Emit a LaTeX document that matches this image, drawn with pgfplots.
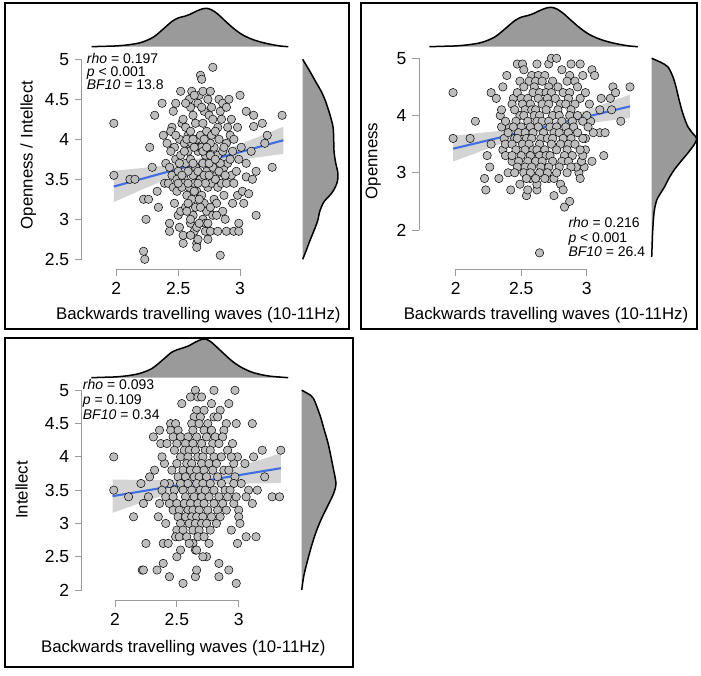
\documentclass[border=0pt]{standalone}
\usepackage{fontspec}
\setmainfont{Liberation Sans}
\usepackage{pgfplots}
\pgfplotsset{compat=1.18}
\definecolor{ptfill}{HTML}{BDBDBD}
\definecolor{densfill}{HTML}{9A9A9A}
\definecolor{bandgray}{HTML}{D4D4D4}
\definecolor{regblue}{RGB}{65,110,225}
\definecolor{axgray}{HTML}{9A9A9A}
\newcommand{\lab}{\fontsize{16.8}{19}\selectfont}
\newcommand{\tlab}{\fontsize{17.5}{20}\selectfont}
\newcommand{\ann}{\fontsize{14}{16}\selectfont}
\pgfplotsset{
  mainax/.style={scale only axis, clip=false,
    axis line style={draw=none},
    tick pos=left, tick align=outside, major tick length=7pt,
    tick style={draw=axgray, line width=0.9pt},
    xtick={2,2.5,3},
    /pgf/number format/assume math mode=true,
    ticklabel style={font=\tlab},
    xticklabel style={yshift=-2.5pt},
    yticklabel style={xshift=-2pt},
  },
  densax/.style={scale only axis, hide axis, clip=false},
  pts/.style={only marks, mark=*, mark size=4.2pt, mark options={fill=ptfill, draw=black, line width=0.5pt}},
  dens/.style={fill=densfill, draw=black, line width=1.5pt, smooth, tension=0.5},
  band/.style={fill=bandgray, draw=none},
  regl/.style={regblue, line width=2.1pt},
}
\begin{document}
\begin{tikzpicture}[x=1pt,y=1pt]
\path[use as bounding box] (0,0) rectangle (701pt,675pt);
% frames
\draw[line width=1.8pt] (5pt,672pt) rectangle (349pt,346pt);
\draw[line width=1.8pt] (361pt,672pt) rectangle (697pt,346pt);
\draw[line width=1.8pt] (5pt,337pt) rectangle (353pt,8pt);

%% ================= Panel 1 =================
\begin{axis}[mainax, at={(81.7pt,405.7pt)}, anchor=south west, width=214pt, height=210pt,
  xmin=1.72, xmax=3.45, ymin=2.375, ymax=5, ytick={2.5,3,3.5,4,4.5,5}]
\addplot[band] coordinates {(1.98,3.605)(2.2,3.640)(2.4,3.676)(2.6,3.728)(2.8,3.821)(3.0,3.938)(3.2,4.063)(3.35,4.158)(3.35,3.818)(3.2,3.787)(3.0,3.743)(2.8,3.691)(2.6,3.615)(2.4,3.498)(2.2,3.366)(1.98,3.215)};
\addplot[pts] coordinates {
(1.98,4.20)(1.98,3.55)(2.11,3.50)(2.15,3.50)(2.22,2.60)(2.23,2.50)(2.24,3.00)(2.22,3.25)(2.26,3.25)(2.27,3.90)(2.29,3.65)(2.31,4.30)(2.33,3.35)(2.34,3.15)(2.37,4.45)(2.38,4.05)(2.40,3.70)(2.39,3.45)(2.42,3.45)(2.43,2.95)(2.43,2.85)(2.45,4.15)(2.46,4.35)(2.48,4.45)(2.52,4.60)(2.54,2.70)(2.54,2.80)(2.47,3.20)(2.45,3.55)(2.43,3.65)(2.41,3.95)(2.44,4.10)(2.47,3.90)(2.48,3.75)(2.46,3.40)(2.50,3.05)(2.51,2.90)(2.52,3.10)(2.49,3.35)(2.50,3.60)(2.52,3.80)(2.51,4.00)(2.53,4.20)(2.54,4.25)(2.56,4.15)(2.55,3.95)(2.56,3.70)(2.55,3.50)(2.57,3.30)(2.56,3.15)(2.54,3.45)(2.58,3.85)(2.58,4.05)(2.59,4.50)(2.60,4.40)(2.61,4.60)(2.62,4.30)(2.60,4.10)(2.61,3.95)(2.60,3.75)(2.62,3.55)(2.59,3.40)(2.61,3.25)(2.62,3.05)(2.60,2.95)(2.63,2.85)(2.65,2.70)(2.65,2.65)(2.66,2.75)(2.65,2.90)(2.64,3.15)(2.65,3.35)(2.63,3.45)(2.64,3.65)(2.66,3.85)(2.65,4.00)(2.64,4.20)(2.66,4.45)(2.67,4.55)(2.68,4.80)(2.69,4.75)(2.70,4.60)(2.71,4.35)(2.70,4.20)(2.68,4.05)(2.67,3.90)(2.69,3.90)(2.70,3.70)(2.68,3.50)(2.69,3.30)(2.71,3.20)(2.70,3.00)(2.72,2.85)(2.74,2.75)(2.72,2.95)(2.73,3.10)(2.74,3.40)(2.73,3.60)(2.72,3.80)(2.74,3.90)(2.73,4.10)(2.75,4.30)(2.74,4.50)(2.76,4.60)(2.78,4.90)(2.77,4.40)(2.78,4.25)(2.77,4.05)(2.79,3.90)(2.78,3.65)(2.77,3.45)(2.79,3.25)(2.78,3.05)(2.76,2.85)(2.84,2.55)(2.81,3.20)(2.82,3.40)(2.81,3.55)(2.82,3.80)(2.83,4.00)(2.82,4.15)(2.84,4.35)(2.83,4.50)(2.86,4.45)(2.85,4.25)(2.86,3.85)(2.87,3.65)(2.85,3.45)(2.87,3.30)(2.86,3.10)(2.82,2.85)(2.89,2.85)(2.88,3.00)(2.89,3.45)(2.90,3.70)(2.89,3.95)(2.90,4.15)(2.89,4.40)(2.91,4.50)(2.93,4.25)(2.92,4.05)(2.94,3.85)(2.93,3.55)(2.95,3.45)(2.94,3.20)(2.99,2.95)(2.95,2.85)(2.99,2.85)(2.98,3.30)(2.97,3.60)(2.99,3.75)(2.98,4.15)(3.00,4.55)(3.01,3.90)(3.02,3.35)(3.03,3.20)(3.05,3.70)(3.05,3.53)(3.07,3.32)(3.05,4.35)(3.09,3.85)(3.11,4.30)(3.11,4.16)(3.10,3.50)(3.13,3.05)(3.13,3.60)(3.18,4.20)(3.22,4.05)(3.20,3.95)(3.26,3.65)(3.34,4.30)
(2.57,4.00)(2.63,3.90)(2.66,3.60)(2.71,3.55)(2.75,3.70)(2.76,3.15)(2.80,3.50)(2.84,3.70)(2.62,3.70)(2.58,3.60)(2.53,3.40)(2.51,3.70)(2.48,4.05)(2.44,3.85)(2.57,3.10)(2.60,3.00)(2.67,3.25)(2.72,3.45)(2.76,3.95)(2.80,4.10)(2.69,4.40)(2.63,4.55)(2.56,4.45)(2.60,2.80)(2.67,2.95)(2.74,2.95)(2.81,3.05)(2.87,3.90)(2.92,3.75)(2.95,4.00)
(2.49,3.50)(2.53,3.55)(2.58,3.20)(2.63,3.35)(2.66,3.45)(2.70,3.85)(2.73,3.90)(2.76,3.80)(2.71,4.00)(2.62,4.00)(2.55,3.85)(2.50,3.45)(2.58,3.45)(2.68,3.15)(2.75,3.55)(2.83,3.60)(2.88,3.55)(2.80,3.75)
};
\addplot[regl] coordinates {(1.98,3.41)(3.35,3.988)};
\draw[axgray, line width=0.9pt] (axis cs:2,2.375) -- (axis cs:3,2.375);
\draw[axgray, line width=0.9pt] (axis cs:1.72,2.5) -- (axis cs:1.72,5);
\end{axis}
\begin{axis}[densax, at={(81.7pt,628.3pt)}, anchor=south west, width=214pt, height=38.4pt,
  xmin=1.72, xmax=3.45, ymin=0, ymax=1]
\addplot[dens] coordinates {(1.80,0.0)(1.90,0.01)(2.00,0.02)(2.10,0.05)(2.20,0.11)(2.30,0.25)(2.40,0.52)(2.45,0.66)(2.50,0.75)(2.55,0.79)(2.60,0.85)(2.65,0.93)(2.70,0.99)(2.73,1.0)(2.77,0.96)(2.82,0.85)(2.88,0.67)(2.95,0.47)(3.02,0.31)(3.10,0.19)(3.18,0.11)(3.25,0.06)(3.32,0.02)(3.39,0.0)};
\end{axis}
\begin{axis}[densax, at={(302.7pt,405.7pt)}, anchor=south west, width=35.6pt, height=210pt,
  xmin=0, xmax=1, ymin=2.375, ymax=5]
\addplot[dens] coordinates {(0,5.0)(0.2,4.85)(0.39,4.70)(0.52,4.60)(0.63,4.49)(0.75,4.33)(0.85,4.16)(0.87,4.0)(0.88,3.85)(0.92,3.72)(0.99,3.57)(0.96,3.45)(0.82,3.33)(0.6,3.22)(0.48,3.10)(0.42,2.98)(0.31,2.85)(0.19,2.72)(0.09,2.6)(0,2.5)};
\end{axis}
\node[rotate=90, font=\lab] at (28.3pt,520pt) {Openness / Intellect};
\node[font=\lab] at (198.3pt,360pt) {Backwards travelling waves (10-11Hz)};
\node[anchor=base west, font=\ann, inner sep=0pt] at (86.7pt,611.7pt) {\textit{rho} = 0.197};
\node[anchor=base west, font=\ann, inner sep=0pt] at (86.7pt,598.3pt) {\textit{p} < 0.001};
\node[anchor=base west, font=\ann, inner sep=0pt] at (86.7pt,585pt) {\textit{BF10} = 13.8};

%% ================= Panel 2 =================
\begin{axis}[mainax, at={(419pt,405.7pt)}, anchor=south west, width=226.7pt, height=211pt,
  xmin=1.72, xmax=3.45, ymin=1.313, ymax=5, ytick={2,3,4,5}]
\addplot[band] coordinates {(1.98,3.645)(2.2,3.699)(2.4,3.746)(2.6,3.822)(2.8,3.943)(3.0,4.096)(3.2,4.258)(3.33,4.365)(3.33,3.955)(3.2,3.920)(3.0,3.862)(2.8,3.795)(2.6,3.698)(2.4,3.554)(2.2,3.383)(1.98,3.195)};
\addplot[pts] coordinates {
(1.98,4.40)(1.98,3.60)(2.11,3.60)(2.15,3.90)(2.22,2.90)(2.23,2.70)(2.24,3.30)(2.26,3.10)(2.27,3.50)(2.27,4.40)(2.31,4.30)(2.33,2.90)(2.34,4.00)(2.35,3.80)(2.36,3.40)(2.36,4.50)(2.39,4.70)(2.41,3.80)(2.42,2.70)(2.43,3.20)(2.44,4.30)(2.45,3.60)(2.47,4.90)(2.49,2.80)(2.49,4.00)(2.51,4.90)(2.52,4.80)(2.54,2.60)(2.55,2.70)(2.57,2.90)(2.62,4.90)(2.62,2.70)(2.62,2.80)(2.64,1.60)(2.71,4.90)(2.73,5.00)(2.77,5.00)(2.71,2.90)(2.75,2.90)(2.75,2.60)(2.80,2.80)(2.82,2.70)(2.83,2.40)(2.87,2.50)(2.81,4.80)(2.87,4.70)(2.88,4.90)(2.95,4.90)(2.97,4.70)(3.04,4.80)(3.06,4.70)(3.11,4.30)(3.18,4.30)(3.20,4.50)(3.22,4.40)(3.19,4.10)(3.26,3.90)(3.33,4.50)(3.10,4.10)(3.10,3.70)(3.14,3.70)(3.05,3.70)(3.03,3.90)(3.04,3.20)(3.13,3.30)(2.99,3.40)(2.98,3.10)(2.94,3.00)(2.92,3.10)(2.96,3.20)
(2.35,4.10)(2.38,3.30)(2.37,3.60)(2.99,3.60)(3.00,4.00)(2.97,3.30)(2.40,3.00)(3.02,4.20)(2.95,2.90)
(2.58,4.70)(2.63,4.70)(2.68,4.70)
(2.49,4.60)(2.56,4.60)(2.61,4.60)(2.66,4.60)(2.74,4.60)(2.85,4.60)(2.91,4.60)
(2.52,4.50)(2.60,4.50)(2.71,4.50)(2.78,4.50)(2.93,4.50)
(2.47,4.40)(2.59,4.40)(2.64,4.40)(2.69,4.40)(2.73,4.40)(2.82,4.40)(2.87,4.40)(2.99,4.40)
(2.50,4.30)(2.55,4.30)(2.63,4.30)(2.70,4.30)(2.76,4.30)(2.86,4.30)(2.95,4.30)
(2.43,4.20)(2.51,4.20)(2.57,4.20)(2.66,4.20)(2.71,4.20)(2.80,4.20)(2.84,4.20)(2.91,4.20)
(2.45,4.10)(2.53,4.10)(2.58,4.10)(2.61,4.10)(2.69,4.10)(2.78,4.10)(2.88,4.10)
(2.52,4.00)(2.60,4.00)(2.64,4.00)(2.74,4.00)(2.79,4.00)(2.87,4.00)(2.93,4.00)
(2.38,3.90)(2.46,3.90)(2.55,3.90)(2.62,3.90)(2.66,3.90)(2.71,3.90)(2.81,3.90)(2.89,3.90)(2.97,3.90)
(2.44,3.80)(2.50,3.80)(2.57,3.80)(2.63,3.80)(2.72,3.80)(2.77,3.80)(2.84,3.80)(2.90,3.80)(3.01,3.80)
(2.40,3.70)(2.48,3.70)(2.53,3.70)(2.59,3.70)(2.67,3.70)(2.75,3.70)(2.79,3.70)(2.86,3.70)(2.93,3.70)
(2.47,3.60)(2.54,3.60)(2.58,3.60)(2.65,3.60)(2.70,3.60)(2.74,3.60)(2.82,3.60)(2.88,3.60)(2.97,3.60)
(2.38,3.50)(2.43,3.50)(2.51,3.50)(2.56,3.50)(2.64,3.50)(2.73,3.50)(2.80,3.50)(2.86,3.50)(2.91,3.50)
(2.46,3.40)(2.53,3.40)(2.59,3.40)(2.62,3.40)(2.68,3.40)(2.77,3.40)(2.85,3.40)(2.95,3.40)
(2.43,3.30)(2.50,3.30)(2.57,3.30)(2.64,3.30)(2.69,3.30)(2.72,3.30)(2.83,3.30)(2.89,3.30)
(2.48,3.20)(2.55,3.20)(2.61,3.20)(2.66,3.20)(2.74,3.20)(2.81,3.20)(2.86,3.20)
(2.47,3.10)(2.53,3.10)(2.58,3.10)(2.65,3.10)(2.71,3.10)(2.79,3.10)(2.88,3.10)
(2.45,3.00)(2.52,3.00)(2.57,3.00)(2.64,3.00)(2.70,3.00)(2.77,3.00)(2.85,3.00)
(2.54,2.90)(2.61,2.90)(2.68,2.90)
};
\addplot[regl] coordinates {(1.98,3.42)(3.33,4.16)};
\draw[axgray, line width=0.9pt] (axis cs:2,1.313) -- (axis cs:3,1.313);
\draw[axgray, line width=0.9pt] (axis cs:1.72,2) -- (axis cs:1.72,5);
\end{axis}
\begin{axis}[densax, at={(419pt,628.3pt)}, anchor=south west, width=226.7pt, height=39.4pt,
  xmin=1.72, xmax=3.45, ymin=0, ymax=1]
\addplot[dens] coordinates {(1.80,0.0)(1.90,0.01)(2.00,0.02)(2.10,0.05)(2.20,0.11)(2.30,0.25)(2.40,0.52)(2.45,0.66)(2.50,0.75)(2.55,0.79)(2.60,0.85)(2.65,0.93)(2.70,0.99)(2.73,1.0)(2.77,0.96)(2.82,0.85)(2.88,0.67)(2.95,0.47)(3.02,0.31)(3.10,0.19)(3.18,0.11)(3.25,0.06)(3.32,0.02)(3.39,0.0)};
\end{axis}
\begin{axis}[densax, at={(651.7pt,405.7pt)}, anchor=south west, width=45pt, height=211pt,
  xmin=0, xmax=1, ymin=1.313, ymax=5]
\addplot[dens] coordinates {(0,5.0)(0.2,4.93)(0.36,4.85)(0.47,4.68)(0.54,4.5)(0.61,4.27)(0.69,4.04)(0.8,3.81)(0.92,3.68)(1.0,3.6)(0.95,3.5)(0.8,3.34)(0.65,3.2)(0.5,3.05)(0.38,2.9)(0.29,2.76)(0.18,2.62)(0.11,2.52)(0.06,2.35)(0.04,2.2)(0.02,1.95)(0.01,1.75)(0,1.53)};
\end{axis}
\node[rotate=90, font=\lab] at (373.3pt,514pt) {Openness};
\node[font=\lab] at (546pt,360pt) {Backwards travelling waves (10-11Hz)};
\node[anchor=base west, font=\ann, inner sep=0pt] at (568.3pt,447pt) {\textit{rho} = 0.216};
\node[anchor=base west, font=\ann, inner sep=0pt] at (568.3pt,432.5pt) {\textit{p} < 0.001};
\node[anchor=base west, font=\ann, inner sep=0pt] at (568.3pt,418pt) {\textit{BF10} = 26.4};

%% ================= Panel 3 =================
\begin{axis}[mainax, at={(81.7pt,75pt)}, anchor=south west, width=212.7pt, height=209.7pt,
  xmin=1.731, xmax=3.45, ymin=1.85, ymax=5, ytick={2,2.5,3,3.5,4,4.5,5}]
\addplot[band] coordinates {(1.98,3.66)(2.2,3.653)(2.4,3.651)(2.6,3.669)(2.8,3.743)(3.0,3.852)(3.2,3.971)(3.34,4.055)(3.34,3.605)(3.2,3.603)(3.0,3.598)(2.8,3.583)(2.6,3.535)(2.4,3.429)(2.2,3.303)(1.98,3.16)};
\addplot[pts] coordinates {
(1.99,4.0)(1.99,3.5)(2.11,3.4)(2.15,3.1)(2.22,2.3)(2.23,2.3)(2.25,2.7)(2.34,2.3)(2.39,2.4)(2.39,2.7)(2.43,2.7)(2.44,2.2)(2.50,2.5)(2.53,2.6)(2.55,2.1)(2.63,2.7)(2.65,2.6)(2.65,2.2)(2.66,2.3)(2.74,2.5)(2.76,2.7)(2.84,2.2)(2.84,2.4)(2.92,2.3)(2.98,2.1)(2.99,2.7)(2.65,5.0)(2.80,5.0)(2.97,5.0)(2.98,4.5)(2.99,4.0)(3.06,2.8)(3.05,3.9)(3.08,3.5)(3.11,4.5)(3.11,3.3)(3.12,4.0)(3.14,2.8)(3.15,3.5)(3.19,4.1)(3.21,3.7)(3.27,3.4)(3.33,3.4)(3.34,4.1)(3.06,3.4)(3.02,3.6)(3.00,3.2)(3.00,3.1)(3.01,3.0)(2.96,3.3)(2.40,3.9)(2.44,3.6)
(2.37,4.2)(2.40,3.6)(2.36,3.3)(2.96,3.9)(2.98,3.4)(2.95,4.2)(2.41,3.0)(2.94,2.9)(2.38,4.0)(2.97,3.7)
(2.61,4.9)(2.67,4.9)(2.70,4.9)
(2.54,4.8)(2.78,4.8)(2.92,4.8)
(2.66,4.7)(2.72,4.7)(2.85,4.7)
(2.64,4.6)(2.69,4.6)(2.80,4.6)(2.83,4.6)
(2.45,4.5)(2.49,4.5)(2.62,4.5)(2.68,4.5)(2.75,4.5)(2.90,4.5)
(2.36,4.4)(2.45,4.4)(2.51,4.4)(2.63,4.4)(2.72,4.4)(2.78,4.4)(2.88,4.4)
(2.31,4.3)(2.47,4.3)(2.53,4.3)(2.59,4.3)(2.66,4.3)(2.74,4.3)(2.81,4.3)(2.87,4.3)
(2.42,4.2)(2.50,4.2)(2.57,4.2)(2.63,4.2)(2.70,4.2)(2.79,4.2)(2.84,4.2)
(2.48,4.1)(2.56,4.1)(2.60,4.1)(2.65,4.1)(2.73,4.1)(2.77,4.1)(2.91,4.1)
(2.53,4.0)(2.59,4.0)(2.67,4.0)(2.71,4.0)(2.80,4.0)(2.86,4.0)(2.94,4.0)
(2.50,3.9)(2.58,3.9)(2.62,3.9)(2.70,3.9)(2.76,3.9)(2.82,3.9)
(2.32,3.8)(2.46,3.8)(2.55,3.8)(2.61,3.8)(2.66,3.8)(2.72,3.8)(2.79,3.8)(2.88,3.8)(2.92,3.8)
(2.28,3.7)(2.51,3.7)(2.57,3.7)(2.64,3.7)(2.68,3.7)(2.74,3.7)(2.83,3.7)
(2.21,3.6)(2.53,3.6)(2.59,3.6)(2.66,3.6)(2.71,3.6)(2.77,3.6)(2.86,3.6)(2.96,3.6)
(2.38,3.5)(2.48,3.5)(2.55,3.5)(2.62,3.5)(2.69,3.5)(2.73,3.5)(2.80,3.5)(2.89,3.5)(2.93,3.5)
(2.27,3.4)(2.41,3.4)(2.47,3.4)(2.57,3.4)(2.64,3.4)(2.70,3.4)(2.76,3.4)(2.84,3.4)(2.91,3.4)
(2.23,3.3)(2.44,3.3)(2.50,3.3)(2.56,3.3)(2.61,3.3)(2.67,3.3)(2.72,3.3)(2.80,3.3)(2.87,3.3)
(2.47,3.2)(2.52,3.2)(2.59,3.2)(2.63,3.2)(2.68,3.2)(2.75,3.2)(2.83,3.2)(2.90,3.2)
(2.35,3.1)(2.51,3.1)(2.57,3.1)(2.62,3.1)(2.66,3.1)(2.71,3.1)(2.78,3.1)(2.85,3.1)
(2.53,3.0)(2.60,3.0)(2.65,3.0)(2.70,3.0)(2.74,3.0)(2.82,3.0)
(2.50,2.9)(2.55,2.9)(2.63,2.9)(2.68,2.9)(2.77,2.9)
(2.49,2.8)(2.52,2.8)(2.58,2.8)(2.67,2.8)(2.72,2.8)
(2.60,2.7)(2.66,2.6)(2.71,2.5)
};
\addplot[regl] coordinates {(1.98,3.41)(3.34,3.83)};
\draw[axgray, line width=0.9pt] (axis cs:2,1.85) -- (axis cs:3,1.85);
\draw[axgray, line width=0.9pt] (axis cs:1.731,2) -- (axis cs:1.731,5);
\end{axis}
\begin{axis}[densax, at={(81.7pt,297.3pt)}, anchor=south west, width=212.7pt, height=38.7pt,
  xmin=1.731, xmax=3.45, ymin=0, ymax=1]
\addplot[dens] coordinates {(1.81,0.0)(1.90,0.01)(2.00,0.02)(2.10,0.05)(2.20,0.11)(2.30,0.24)(2.40,0.50)(2.45,0.64)(2.50,0.72)(2.55,0.77)(2.60,0.83)(2.65,0.92)(2.70,0.99)(2.73,1.0)(2.77,0.94)(2.82,0.80)(2.88,0.62)(2.95,0.42)(3.02,0.27)(3.10,0.15)(3.18,0.08)(3.25,0.04)(3.32,0.02)(3.40,0.0)};
\end{axis}
\begin{axis}[densax, at={(301.7pt,75pt)}, anchor=south west, width=34.3pt, height=209.7pt,
  xmin=0, xmax=1, ymin=1.85, ymax=5]
\addplot[dens] coordinates {(0,5.0)(0.18,4.95)(0.34,4.88)(0.53,4.63)(0.66,4.4)(0.78,4.18)(0.92,3.83)(1.0,3.6)(0.95,3.48)(0.87,3.38)(0.63,3.13)(0.5,2.98)(0.39,2.83)(0.28,2.65)(0.19,2.48)(0.1,2.3)(0.05,2.18)(0,2.0)};
\end{axis}
\node[rotate=90, font=\lab] at (21.7pt,185pt) {Intellect};
\node[font=\lab] at (183.3pt,26.7pt) {Backwards travelling waves (10-11Hz)};
\node[anchor=base west, font=\ann, inner sep=0pt] at (82.7pt,285pt) {\textit{rho} = 0.093};
\node[anchor=base west, font=\ann, inner sep=0pt] at (82.7pt,270pt) {\textit{p} = 0.109};
\node[anchor=base west, font=\ann, inner sep=0pt] at (82.7pt,255pt) {\textit{BF10} = 0.34};
\end{tikzpicture}
\end{document}
